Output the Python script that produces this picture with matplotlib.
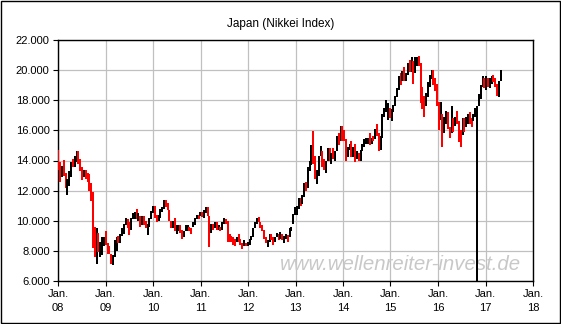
import matplotlib
matplotlib.use('Agg')
import matplotlib.pyplot as plt
import matplotlib.dates as mdates
import matplotlib.ticker as mticker
from matplotlib.patches import Rectangle
import pandas as pd

plt.rcParams['font.family'] = ['Liberation Sans', 'DejaVu Sans']

# two-week bars of the Nikkei, Jan 2008 - May 2017
first_date = '2008-01-04'
first_open = 14700

highs = [
    14700, 13900, 13650, 14030, 13200, 12800, 13300, 13900, 14100, 14300, 14600, 14600, 14100,
    13600, 13400, 13400, 13200, 13100, 12500, 11900, 9600, 9500, 9200, 8600, 8900, 8900,  # 2008
    9300, 8500, 8300, 7800, 7700, 8700, 8900, 9000, 9100, 9500, 9800, 10170, 10100,
    9900, 10200, 10500, 10600, 10800, 10500, 10300, 10300, 10300, 10000, 9800, 10200, 10650,  # 2009
    11000, 11000, 10400, 10400, 10800, 10900, 11400, 11400, 11200, 10700, 10000, 10000, 10200,
    9700, 9700, 9700, 9400, 9300, 9700, 9700, 9600, 9500, 9900, 10200, 10350, 10400,  # 2010
    10600, 10600, 10700, 10900, 10900, 10300, 9800, 9800, 9900, 9900, 9700, 9600, 9900,
    10150, 10100, 10000, 9100, 9000, 8900, 8800, 8900, 9100, 8800, 8500, 8700, 8500,  # 2011
    8600, 8800, 9000, 9500, 9900, 10200, 10250, 9900, 9700, 9400, 8900, 8700, 9100,
    9100, 8900, 8900, 9200, 9100, 9250, 9100, 9000, 9100, 9050, 9500, 9600, 10450,  # 2012
    10900, 10950, 11500, 11500, 11700, 12500, 12600, 13600, 14000, 15000, 15950, 14300, 13400,
    14300, 14950, 14600, 14100, 14000, 14800, 14800, 14500, 14800, 14600, 15600, 15800, 16300,  # 2013
    16300, 16000, 15400, 14900, 15100, 15300, 14900, 15100, 14600, 14500, 14700, 15100, 15400,
    15500, 15500, 15800, 15500, 15600, 16100, 16400, 15800, 15600, 17100, 17500, 18000, 17800,  # 2014
    17500, 17400, 17700, 18300, 18800, 19600, 19800, 19950, 20200, 19800, 20500, 20650, 20870,
    20600, 20850, 20900, 20950, 20500, 18900, 18300, 18500, 19200, 19700, 20000, 20000, 19500,  # 2015
    19100, 17900, 17900, 17100, 16900, 17300, 17200, 16200, 17600, 16800, 16900, 17300, 16600,
    16000, 16800, 16800, 16900, 17100, 17200, 16800, 17100, 17500, 17600, 18400, 19000, 19600,  # 2016
    19500, 19600, 19500, 19500, 19600, 19650, 19500, 19100, 19300, 20000,  # 2017
]

lows = [
    13400, 12570, 12900, 13000, 12200, 11690, 12300, 12900, 13600, 13600, 13900, 13800, 13300,
    12700, 12900, 12800, 12600, 12000, 11300, 8200, 7600, 7100, 7900, 7600, 7700, 8300,  # 2008
    8400, 7800, 7800, 7100, 7050, 7600, 8000, 8500, 8500, 9000, 9100, 9700, 9500,
    9050, 9400, 10100, 10100, 10100, 10000, 9600, 9700, 9700, 9500, 9080, 9600, 10100,  # 2009
    10500, 10200, 9900, 10000, 10200, 10600, 10800, 10900, 10700, 10000, 9500, 9500, 9300,
    9100, 9300, 9200, 8800, 8900, 9300, 9300, 9300, 9100, 9600, 9700, 10100, 10100,  # 2010
    10300, 10250, 10200, 10500, 10300, 8230, 9200, 9400, 9500, 9400, 9400, 9300, 9400,
    9800, 9800, 8600, 8600, 8600, 8400, 8350, 8600, 8600, 8400, 8150, 8300, 8300,  # 2011
    8300, 8400, 8700, 8900, 9500, 9800, 9900, 9500, 9300, 8800, 8500, 8240, 8600,
    8700, 8400, 8600, 8900, 8700, 8800, 8700, 8500, 8800, 8600, 8900, 9300, 9800,  # 2012
    10400, 10400, 10800, 11000, 11100, 11600, 12000, 12200, 13300, 13700, 13800, 12800, 12450,
    13000, 14300, 13600, 13400, 13200, 14000, 14000, 13800, 14100, 14000, 14600, 15000, 15300,  # 2013
    15300, 15300, 14000, 14200, 14700, 14200, 14200, 13900, 14100, 14000, 14000, 14600, 14900,
    15100, 15100, 15000, 15100, 15300, 15400, 15600, 14600, 14700, 15500, 16900, 17200, 16700,  # 2014
    16800, 16600, 17200, 17600, 18200, 18700, 19000, 19300, 19300, 19250, 19700, 19900, 19900,
    19100, 19800, 20300, 20300, 17800, 17400, 16900, 17600, 18200, 18900, 19400, 19000, 18600,  # 2015
    17600, 16000, 16700, 14900, 15800, 16400, 16100, 15500, 15800, 15900, 16300, 16400, 15200,
    14900, 15700, 15900, 16200, 16400, 16400, 16200, 16600, 16900, 5000, 17600, 18100, 18900,  # 2016
    18800, 18700, 18900, 18800, 19100, 19200, 18900, 18300, 18200, 19300,  # 2017
]

closes = [
    13780, 13500, 13620, 13000, 12250, 12650, 13300, 13860, 13850, 14000, 14500, 13860, 13480,
    13000, 13380, 13170, 12900, 12200, 11900, 8300, 7650, 8600, 8200, 8500, 8700, 8860,  # 2008
    8600, 8000, 7900, 7400, 7570, 8640, 8900, 8700, 9000, 9300, 9770, 10100, 9870,
    9400, 10170, 10300, 10530, 10200, 10260, 9800, 10250, 9800, 9550, 9600, 10100, 10550,  # 2009
    10980, 10200, 10100, 10200, 10750, 10830, 11200, 11100, 10700, 10200, 9700, 9900, 9400,
    9600, 9650, 9250, 8900, 9250, 9500, 9600, 9400, 9200, 9800, 10100, 10300, 10230,  # 2010
    10500, 10360, 10600, 10700, 10300, 9200, 9700, 9500, 9850, 9500, 9550, 9350, 9850,
    10000, 9900, 9000, 8800, 8700, 8600, 8500, 8800, 8700, 8500, 8400, 8450, 8400,  # 2011
    8500, 8750, 8950, 9400, 9800, 10100, 10000, 9600, 9400, 8900, 8550, 8600, 9000,
    8750, 8600, 8850, 9000, 8850, 9100, 8800, 8850, 8950, 8700, 9450, 9600, 10400,  # 2012
    10800, 10900, 11400, 11300, 11600, 12400, 12100, 13500, 13700, 14900, 14100, 12900, 13200,
    14200, 14600, 13700, 13650, 13900, 14600, 14100, 14400, 14300, 14550, 15500, 15400, 16200,  # 2013
    15900, 15400, 14500, 14860, 14900, 14300, 14800, 14100, 14450, 14100, 14650, 15100, 15150,
    15300, 15450, 15100, 15500, 15450, 16000, 15700, 14800, 15500, 16900, 17350, 17400, 17700,  # 2014
    16900, 17300, 17650, 18200, 18700, 19500, 19300, 19650, 19550, 19700, 20400, 20000, 20400,
    19800, 20600, 20700, 20500, 18400, 18100, 17700, 18400, 19100, 19600, 19900, 19200, 19000,  # 2015
    17700, 16900, 17500, 16000, 16800, 17000, 16200, 15800, 16700, 16400, 16800, 16600, 15600,
    15500, 16600, 16300, 16500, 17000, 16500, 16450, 16900, 17400, 17500, 18300, 18900, 19400,  # 2016
    19100, 19150, 19000, 19200, 19500, 19450, 18950, 18400, 19200, 19850,  # 2017
]

y_ticks = [6000, 8000, 10000, 12000, 14000, 16000, 18000, 20000, 22000]

dates = pd.date_range(first_date, periods=len(highs), freq='14D')
opens = [first_open] + closes[:-1]
colors = ['red' if c < o else 'black' for o, c in zip(opens, closes)]

W, H = 561, 324
fig = plt.figure(figsize=(W / 100, H / 100), dpi=100)
ax = fig.add_axes([58 / W, (H - 281) / H, (533 - 58) / W, (281 - 40) / H])

ax.vlines(dates, lows, highs, colors=colors, linewidth=1.1, antialiased=False, zorder=3)

ax.set_xlim(pd.Timestamp('2008-01-01'), pd.Timestamp('2018-01-01'))
ax.set_ylim(6000, 22000)
ax.set_yticks(y_ticks)
ax.yaxis.set_major_formatter(mticker.FuncFormatter(lambda v, p: f'{int(v):,}'.replace(',', '.')))
ax.xaxis.set_major_locator(mdates.YearLocator())
ax.xaxis.set_major_formatter(mdates.DateFormatter('%b.\n%y'))

ax.grid(True, color='#c0c0c0', linewidth=0.9, zorder=0)
ax.set_axisbelow(True)
for s in ax.spines.values():
    s.set_linewidth(1.0)
ax.tick_params(axis='both', direction='out', length=3.5, width=0.8, labelsize=8, pad=2.5)
for lab in ax.get_xticklabels():
    lab.set_linespacing(1.4)

ax.text(521 / W, (H - 264) / H, 'www.wellenreiter-invest.de', transform=fig.transFigure,
        ha='right', va='center', fontsize=14.7, style='italic', color='#c8c8c8', zorder=1)

fig.text(0.5, 1 - 24 / H, 'Japan (Nikkei Index)', ha='center', va='center', fontsize=8.5)

fig.patches.append(Rectangle((0.6 / W, 1.2 / H), 1 - 1.8 / W, 1 - 1.8 / H, transform=fig.transFigure,
                             fill=False, edgecolor='black', linewidth=1.0))

fig.savefig('out.png', dpi=100, facecolor='white')
